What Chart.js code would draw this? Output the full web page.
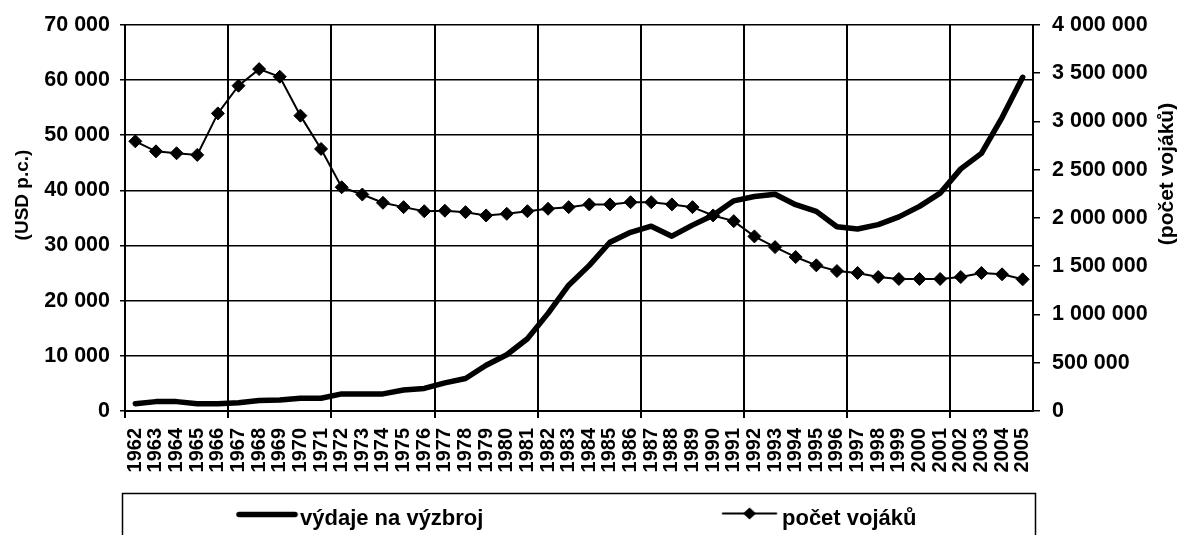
<!DOCTYPE html>
<html>
<head>
<meta charset="utf-8">
<script src="https://cdn.jsdelivr.net/npm/chart.js@4/dist/chart.umd.min.js"></script>
<style>
html,body{margin:0;padding:0;background:#fff;}
#wrap{width:1179px;height:535px;position:relative;overflow:hidden;}
</style>
</head>
<body>
<div id="wrap"><canvas id="c" width="1179" height="535"></canvas></div>
<script>
// ---- data ----
const years = ["1962","1963","1964","1965","1966","1967","1968","1969","1970","1971",
  "1972","1973","1974","1975","1976","1977","1978","1979","1980","1981",
  "1982","1983","1984","1985","1986","1987","1988","1989","1990","1991",
  "1992","1993","1994","1995","1996","1997","1998","1999","2000","2001",
  "2002","2003","2004","2005"];
const spending = [1300,1700,1700,1300,1300,1500,1900,2000,2300,2300,
  3100,3100,3100,3800,4100,5100,5900,8300,10200,13100,
  17700,22800,26400,30600,32400,33500,31700,33700,35500,38100,
  38900,39300,37400,36200,33400,33000,33800,35200,37100,39500,
  43900,46700,53200,60500];
const soldiers = [2794000,2690000,2670000,2653000,3083000,3370000,3542000,3463000,3060000,2715000,
  2318000,2243000,2157000,2112000,2070000,2075000,2060000,2026000,2043000,2070000,
  2095000,2112000,2140000,2140000,2163000,2163000,2140000,2112000,2026000,1967000,
  1809000,1698000,1595000,1509000,1450000,1430000,1388000,1368000,1368000,1368000,
  1388000,1430000,1416000,1364000];
const seriesNames = ["výdaje na výzbroj", "počet vojáků"];
const leftTicks = [0,10000,20000,30000,40000,50000,60000,70000];
const rightTicks = [0,500000,1000000,1500000,2000000,2500000,3000000,3500000,4000000];
const leftTitle = "(USD p.c.)";
const rightTitle = "(počet vojáků)";

// ---- layout helpers ----
const FAM = '"Liberation Sans", Arial, sans-serif';
const fmt = v => String(v).replace(/\B(?=(\d{3})+(?!\d))/g, ' ');
const LEG_SIZE = 22, LP = 10;
const mctx = document.createElement('canvas').getContext('2d');
mctx.font = 'bold ' + LEG_SIZE + 'px ' + FAM;
const tw1 = mctx.measureText(seriesNames[0]).width;
const text1X = 300, text2X = 782;
const bw = text2X - text1X - tw1 - LP - LEG_SIZE / 2;
const item1X = text1X - bw - LEG_SIZE / 2;
const item2X = text2X - bw - LEG_SIZE / 2;
const padL = item1X - LP;
const IMG_W = Math.round(bw) + 40, IMG_H = 30;

function makeImg(itemX, draw) {
  const c = document.createElement('canvas');
  c.width = IMG_W; c.height = IMG_H;
  const g = c.getContext('2d');
  const left = itemX + bw / 2 - IMG_W / 2; // page x of image left edge
  const top = 519 - IMG_H / 2;             // page y of image top edge
  g.translate(-left, -top);
  draw(g);
  return c;
}
const img1 = makeImg(item1X, g => {
  g.strokeStyle = '#000'; g.lineWidth = 5.5; g.lineCap = 'round';
  g.beginPath(); g.moveTo(text1X - 61, 514.5); g.lineTo(text1X - 5, 514.5); g.stroke();
});
const img2 = makeImg(item2X, g => {
  g.strokeStyle = '#000'; g.fillStyle = '#000'; g.lineWidth = 2;
  g.beginPath(); g.moveTo(text2X - 60, 513.5); g.lineTo(text2X - 5, 513.5); g.stroke();
  const cx = text2X - 32.5, cy = 513.5, r = 6.5;
  g.beginPath(); g.moveTo(cx - r, cy); g.lineTo(cx, cy - r + 0.5); g.lineTo(cx + r, cy); g.lineTo(cx, cy + r - 0.5); g.closePath(); g.fill();
});

function drawVTitle(ctx, text, x, y, size) {
  ctx.save();
  ctx.fillStyle = '#000';
  ctx.font = 'bold ' + size + 'px ' + FAM;
  ctx.textAlign = 'center';
  ctx.textBaseline = 'middle';
  ctx.translate(x, y);
  ctx.rotate(-Math.PI / 2);
  ctx.fillText(text, 0, 0);
  ctx.restore();
}

const decor = {
  id: 'decor',
  afterDraw(chart) {
    const ctx = chart.ctx;
    ctx.save();
    ctx.strokeStyle = '#000';
    ctx.lineWidth = 1.5;
    ctx.strokeRect(122.5, 493.5, 913, 60);
    ctx.restore();
    drawVTitle(ctx, leftTitle, 23, 195, 19);
    drawVTitle(ctx, rightTitle, 1167, 174, 21);
  }
};

new Chart(document.getElementById('c'), {
  type: 'line',
  data: {
    labels: years,
    datasets: [
      {
        label: seriesNames[0], data: spending, yAxisID: 'y',
        borderColor: '#000', backgroundColor: '#000', borderWidth: 5.5,
        pointRadius: 0, tension: 0, borderJoinStyle: 'round', borderCapStyle: 'round'
      },
      {
        label: seriesNames[1], data: soldiers, yAxisID: 'y1',
        borderColor: '#000', backgroundColor: '#000', borderWidth: 2,
        pointStyle: 'rectRot', pointRadius: 6.5, pointBorderWidth: 1,
        pointBackgroundColor: '#000', pointBorderColor: '#000', tension: 0
      }
    ]
  },
  options: {
    responsive: false, animation: false, devicePixelRatio: 1, events: [],
    layout: { padding: { left: padL, right: 0, top: 24, bottom: -5 } },
    plugins: {
      tooltip: { enabled: false },
      legend: {
        display: true, position: 'bottom', align: 'start',
        labels: {
          usePointStyle: true, pointStyleWidth: bw, padding: LP, color: '#000',
          font: { family: FAM, size: LEG_SIZE, weight: 'bold' },
          generateLabels(chart) {
            const items = Chart.defaults.plugins.legend.labels.generateLabels(chart);
            const imgs = [img1, img2];
            items.forEach(it => { it.pointStyle = imgs[it.datasetIndex]; });
            items.sort((a, b) => a.datasetIndex - b.datasetIndex);
            return items;
          }
        }
      }
    },
    scales: {
      x: {
        offset: true,
        grid: {
          offset: true, lineWidth: 2, tickLength: 7,
          color: c => (c.index % 5 === 0 ? '#000' : 'rgba(0,0,0,0)')
        },
        border: { display: true, color: '#000', width: 2 },
        ticks: {
          autoSkip: false, maxRotation: 90, minRotation: 90, padding: 10, color: '#000',
          font: { family: FAM, size: 20, weight: 'bold' }
        },
        afterFit: s => { s.height = 87; }
      },
      y: {
        position: 'left', min: 0, max: 70000,
        afterBuildTicks: s => { s.ticks = leftTicks.map(v => ({ value: v })); },
        grid: { color: '#000', lineWidth: 1.5, tickLength: 5 },
        border: { display: true, color: '#000', width: 2 },
        ticks: {
          padding: 10, color: '#000',
          font: { family: FAM, size: 21.5, weight: 'bold' },
          callback: v => fmt(v)
        },
        afterFit: s => { s.width = 125 - padL; }
      },
      y1: {
        position: 'right', min: 0, max: 4000000,
        afterBuildTicks: s => { s.ticks = rightTicks.map(v => ({ value: v })); },
        grid: { drawOnChartArea: false, color: '#000', lineWidth: 1.5, tickLength: 7 },
        border: { display: true, color: '#000', width: 2 },
        ticks: {
          padding: 12, color: '#000',
          font: { family: FAM, size: 21.5, weight: 'bold' },
          callback: v => fmt(v)
        },
        afterFit: s => { s.width = 146; }
      }
    }
  },
  plugins: [decor]
});
</script>
</body>
</html>
